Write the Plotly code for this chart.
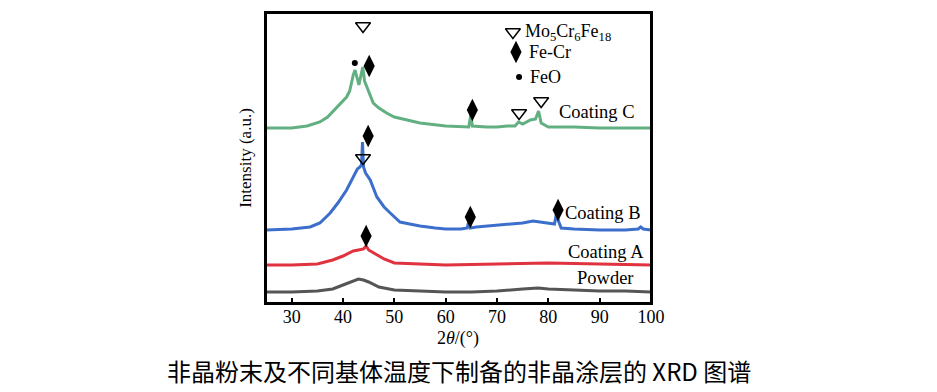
import plotly.graph_objects as go

# ---- data (heights in arbitrary intensity units) ----
powder_x = [25, 30, 35, 38, 40, 42, 43, 44, 45, 47, 50, 55, 60, 65, 70, 75, 78, 80, 85, 90, 95, 100]
powder_y = [11, 11, 12, 14, 18, 22, 24, 23, 21, 16, 13, 12, 11, 11, 12, 14, 15, 14, 13, 12, 12, 11]

coatA_x = [25, 30, 35, 38, 40, 42, 43, 44, 44.5, 45, 46, 48, 50, 55, 60, 70, 80, 90, 100]
coatA_y = [38, 38, 39, 43, 47, 52, 53, 54, 57, 53, 50, 44, 40, 39, 38, 39, 40, 39, 38]

coatB_x = [25, 30, 33.6, 35.5, 37.5, 39, 40.7, 42, 42.8, 43.3, 43.6, 43.8, 44.0, 44.4, 45.3, 46.6, 48,
           49.2, 51.1, 53, 55, 58, 60, 63, 64.2, 64.5, 64.8, 66, 70, 75, 77, 80, 81.2, 81.6, 81.9, 82.5,
           85, 90, 95, 97.5, 98, 98.5, 100]
coatB_y = [73, 74, 76, 80, 90, 100, 113, 127, 134, 136, 138, 161, 136, 130, 123, 106, 96,
           90, 81, 79, 77, 75, 74, 74, 75, 82, 75, 76, 78, 80, 82, 80, 79, 90, 83, 75,
           74, 73, 73, 74, 76, 74, 73]

coatC_x = [25, 30, 33, 35.5, 37, 38.8, 40, 40.7, 41.3, 41.7, 42.0, 42.35, 42.7, 43.1, 43.5, 43.85, 44.2,
           44.95, 45.9, 47, 48.5, 50, 55, 60, 64.5, 64.9, 65.2, 68, 70, 72, 73.5, 74.2, 75, 76.5, 77.5,
           78.1, 78.6, 80, 85, 90, 100]
coatC_y = [175, 175, 177, 181, 186, 196, 202, 206, 212, 222, 228, 233, 226, 218, 228, 236, 222,
           213, 200, 195, 190, 186, 180, 177, 176, 188, 177, 176, 176, 177, 177, 181, 179, 183, 184,
           192, 180, 176, 176, 175, 175]

series_names = ["Powder", "Coating A", "Coating B", "Coating C"]
series_colors = ["#555555", "#e0323f", "#3c6fcb", "#62b081"]

# phase markers: (x, y)
tri_x = [43.9, 74.3, 78.6, 43.9]
tri_y = [277, 190, 202, 145]
dia_x = [45.1, 65.2, 44.9, 64.8, 81.9, 44.5]
dia_y = [237, 193, 167, 86, 93, 67]
dot_x = [42.3]
dot_y = [240]

legend_sym_x = [73.1, 73.7, 74.3]
legend_sym_y = [271, 251, 226]
legend_labels = ["Mo<sub>5</sub>Cr<sub>6</sub>Fe<sub>18</sub>", "Fe-Cr", "FeO"]
legend_text_x = [75.0, 75.9, 76.1]

label_x = [97.2, 98.4, 99.1, 97.1]
label_y = [191, 90, 51, 25]
label_text = ["Coating C", "Coating B", "Coating A", "Powder"]

x_ticks = [30, 40, 50, 60, 70, 80, 90, 100]
x_title = "2<i>θ</i>/(°)"
y_title = "Intensity (a.u.)"
caption = "非晶粉末及不同基体温度下制备的非晶涂层的 XRD 图谱"

serif = "Liberation Serif, Times New Roman, serif"

fig = go.Figure()
for xs, ys, name, col in zip([powder_x, coatA_x, coatB_x, coatC_x],
                             [powder_y, coatA_y, coatB_y, coatC_y],
                             series_names, series_colors):
    fig.add_trace(go.Scatter(x=xs, y=ys, mode="lines", name=name,
                             line=dict(color=col, width=3), showlegend=False))

fig.add_trace(go.Scatter(x=tri_x + [legend_sym_x[0]], y=tri_y + [legend_sym_y[0]], mode="markers",
                         marker=dict(symbol="triangle-down-open", size=13, color="black",
                                     line=dict(width=1.5, color="black")), showlegend=False))
fig.add_trace(go.Scatter(x=dia_x + [legend_sym_x[1]], y=dia_y + [legend_sym_y[1]], mode="markers",
                         marker=dict(symbol="diamond-tall", size=16, color="black"), showlegend=False))
fig.add_trace(go.Scatter(x=dot_x + [legend_sym_x[2]], y=dot_y + [legend_sym_y[2]], mode="markers",
                         marker=dict(symbol="circle", size=6, color="black"), showlegend=False))

for tx, ty, t in zip(legend_text_x, legend_sym_y, legend_labels):
    fig.add_annotation(x=tx, y=ty, text=t, showarrow=False, xanchor="left", yanchor="middle",
                       font=dict(family=serif, size=18, color="black"))

for lx, ly, t in zip(label_x, label_y, label_text):
    fig.add_annotation(x=lx, y=ly, text=t, showarrow=False, xanchor="right", yanchor="middle",
                       font=dict(family=serif, size=18.5, color="black"))

fig.add_annotation(xref="paper", yref="paper", x=0.499, y=-0.122, text=x_title,
                   showarrow=False, xanchor="center", yanchor="middle",
                   font=dict(family=serif, size=18, color="black"))

fig.add_annotation(xref="paper", yref="paper", x=0.501, y=-0.234, text=caption,
                   showarrow=False, xanchor="center", yanchor="middle",
                   font=dict(family="Noto Sans CJK SC", size=24, color="black"))

# plot frame
fig.add_shape(type="rect", xref="paper", yref="paper", x0=0, y0=0, x1=1, y1=1,
              line=dict(color="black", width=2), layer="above")

fig.update_layout(
    width=937, height=392,
    margin=dict(l=266, r=286, t=13, b=89),
    plot_bgcolor="white", paper_bgcolor="white",
    xaxis=dict(range=[25, 100], tickvals=x_ticks, ticks="inside", ticklen=5, tickwidth=1.5,
               tickcolor="black", showline=True, linecolor="black", linewidth=2, mirror=True,
               showgrid=False, zeroline=False, ticklabelstandoff=-4,
               tickfont=dict(family=serif, size=18, color="black")),
    yaxis=dict(range=[0, 290], showticklabels=False, ticks="", showline=True, linecolor="black",
               linewidth=2, mirror=True, showgrid=False, zeroline=False,
               title=dict(text=y_title, font=dict(family=serif, size=17, color="black"),
                          standoff=8)),
)

fig.write_html("out.html", config={"displayModeBar": False},
               post_script="document.body.style.margin='0';document.body.style.overflow='hidden';")
